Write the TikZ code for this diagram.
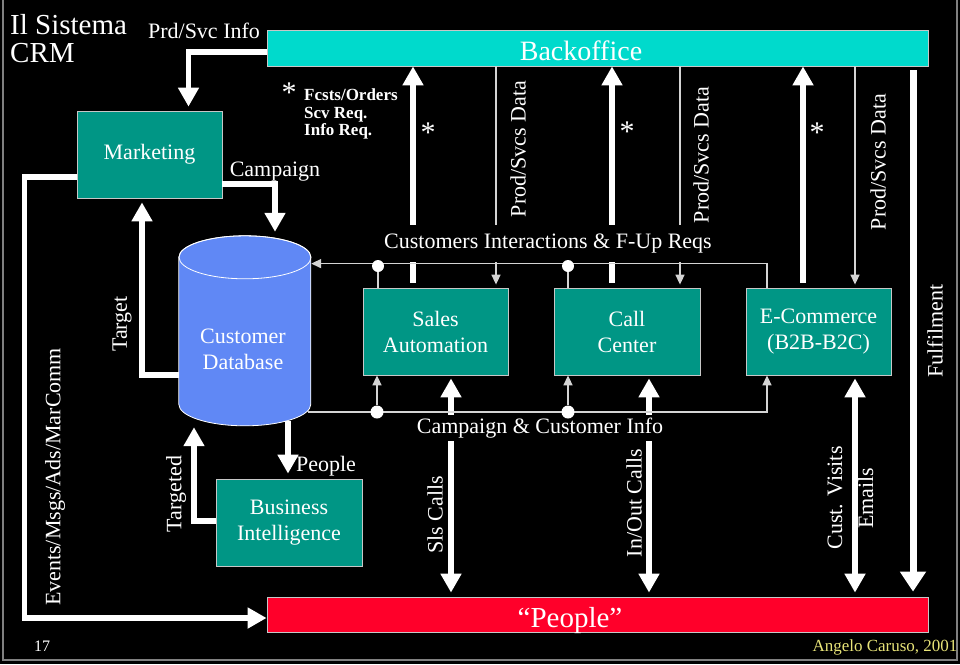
\documentclass[tikz,border=0pt]{standalone}
\usepackage{fontspec}
\setmainfont{Liberation Serif}
\usetikzlibrary{arrows.meta,positioning}

\definecolor{crmteal}{RGB}{0,150,133}
\definecolor{crmcyan}{RGB}{0,218,204}
\definecolor{crmred}{RGB}{255,0,42}
\definecolor{crmblue}{RGB}{96,136,245}
\definecolor{crmline}{RGB}{212,212,212}
\definecolor{crmyellow}{RGB}{232,228,120}

\begin{document}
\begin{tikzpicture}[
    x=1pt, y=-1pt,
    font=\fontsize{22}{26}\selectfont, text=white,
    box/.style={draw=white!78!black, line width=0.8pt, fill=crmteal, align=center, minimum width=145pt, minimum height=87pt, inner sep=2pt},
    band/.style={draw=white!78!black, line width=0.8pt, minimum width=661pt, inner sep=0pt},
    pipe/.style={white, line width=5.5pt},
    flow/.style={pipe, -{Triangle[width=20pt,length=19pt]}},
    twoway/.style={pipe, {Triangle[width=20pt,length=19pt]}-{Triangle[width=20pt,length=19pt]}},
    bus/.style={crmline, line width=1.6pt},
    tap/.style={bus, -{Triangle[width=9pt,length=10pt]}},
    joint/.style={circle, fill=white, inner sep=0pt, minimum size=13pt},
    gap/.style={fill=black, inner sep=0pt},
    vlabel/.style={rotate=90, inner sep=0pt},
    star/.style={font=\fontsize{30}{30}\selectfont, inner sep=0pt},
    bigtext/.style={font=\fontsize{28}{30}\selectfont},
    reqtext/.style={font=\fontsize{17}{17.5}\selectfont\bfseries, align=left, inner sep=0pt}
  ]

  \useasboundingbox (0,0) rectangle (960,664);
  \fill[black] (0,0) rectangle (960,664);
  \draw[gray, line width=1.2pt] (3,0) -- (3,660) -- (957,660) -- (957,0);

  % Boxes
  \node[band, fill=crmcyan, minimum height=36pt] (bo) at (597.5,48) {};
  \node[band, fill=crmred, minimum height=35pt] (ppl) at (597.5,614.5) {};
  \node[box] (mkt) at (149.5,154.5) {Marketing};
  \node[box] (sa) at (435.5,331.5) {Sales\\Automation};
  \node[box, minimum width=146pt] (cc) at (627,331.5) {Call\\Center};
  \node[box] (ec) at (818.5,331.5) {E-Commerce\\(B2B-B2C)};
  \node[box, minimum width=146pt] (bi) at (289,522.5) {Business\\Intelligence};

  % Customer database cylinder
  \node[minimum width=132pt, minimum height=190pt, inner sep=0pt] (db) at (245,331) {};
  \filldraw[fill=crmblue, draw=white, line width=0.8pt] (db.north west) ++(0,21.5) -- ++(0,147) arc (180:0:66 and 21.5) -- ++(0,-147) arc (0:-180:66 and 21.5) -- cycle;
  \draw[white, line width=0.8pt] (db.north) ++(0,21.5) ellipse (66 and 21.5);
  \node[align=center] (dbtext) at (243,349) {Customer\\Database};

  % Marketing loop
  \draw[flow, shorten >=4pt] ([yshift=-4pt]bo.west) -| ([xshift=39pt]mkt.north);
  \draw[flow, shorten >=4pt] ([yshift=-29.5pt]mkt.east) -| ([xshift=30pt]db.north);
  \draw[flow] ([yshift=-22.5pt]mkt.west) -- ++(-52,0) |- ([yshift=-3.5pt]ppl.west);
  \draw[flow, shorten >=4pt] ([yshift=-44pt]db.west) -| ([xshift=-7.5pt]mkt.south);
  \draw[flow, shorten >=1pt] ([yshift=1.5pt]bi.west) -| ([xshift=-51pt]db.south);
  \draw[flow, shorten >=5pt] ([xshift=43pt,yshift=5pt]db.south) -- ([xshift=-1pt]bi.north);

  % Requests up to the backoffice
  \coordinate (req1) at ([xshift=-22.5pt]sa.north);
  \coordinate (req2) at ([xshift=-15pt]cc.north);
  \coordinate (req3) at ([xshift=-15.5pt]ec.north);
  \draw[flow, shorten <=5pt] (req1) -- (req1 |- bo.south);
  \draw[flow, shorten <=5pt] (req2) -- (req2 |- bo.south);
  \draw[flow, shorten <=5pt] (req3) -- (req3 |- bo.south);

  % Product data down from the backoffice
  \coordinate (dat1) at ([xshift=60.5pt]sa.north);
  \coordinate (dat2) at ([xshift=53pt]cc.north);
  \coordinate (dat3) at ([xshift=36.5pt]ec.north);
  \draw[tap, shorten >=3pt] (dat1 |- bo.south) -- (dat1);
  \draw[tap, shorten >=3pt] (dat2 |- bo.south) -- (dat2);
  \draw[tap, shorten >=3pt] (dat3 |- bo.south) -- (dat3);

  % Fulfilment
  \coordinate (ful) at ([xshift=315.5pt]bo.south);
  \draw[pipe, line width=7pt, -{Triangle[width=25pt,length=20pt]}, shorten <=4pt, shorten >=5pt] (ful) -- (ful |- ppl.north);

  % Channels to the people
  \coordinate (chn1) at ([xshift=15.5pt]sa.south);
  \coordinate (chn2) at ([xshift=22pt]cc.south);
  \coordinate (chn3) at ([xshift=36.5pt]ec.south);
  \draw[twoway, shorten <=3pt, shorten >=4pt] (chn1) -- (chn1 |- ppl.north);
  \draw[twoway, shorten <=3pt, shorten >=4pt] (chn2) -- (chn2 |- ppl.north);
  \draw[twoway, shorten <=3pt, shorten >=4pt] (chn3) -- (chn3 |- ppl.north);

  % Buses
  \draw[tap] ([xshift=-51.5pt]ec.north) -- ++(0,-24) coordinate (cibus) -- (cibus -| db.east);
  \draw[tap] (308,412) coordinate (ccbus) -| ([xshift=-51.5pt]ec.south);

  % Labels
  \node[gap, minimum height=37pt] (cilbl) at (548,243.5) {Customers Interactions \& F-Up Reqs};
  \node[gap, minimum height=26pt] (cclbl) at (540,428) {Campaign \& Customer Info};
  \node[align=left, anchor=north west, inner sep=0pt, font=\fontsize{29}{28}\selectfont] (ttl) at (10,14) {Il Sistema\\CRM};
  \node (pinfo) at (204,31) {Prd/Svc Info};
  \node (camp) at (275,172) {Campaign};
  \node[star] (ast0) at (289,93) {*};
  \node[reqtext, anchor=north west] (reqs) at (304,89) {Fcsts/Orders\\Scv Req.\\Info Req.};
  \node[star] (ast1) at (428,133) {*};
  \node[star] (ast2) at (627,132) {*};
  \node[star] (ast3) at (817,133) {*};
  \node[vlabel] (pd1) at (518,149) {Prod/Svcs Data};
  \node[vlabel] (pd2) at (701,155) {Prod/Svcs Data};
  \node[vlabel] (pd3) at (878,162) {Prod/Svcs Data};
  \node[vlabel] (tgt) at (122,324) {Target};
  \node[vlabel] (tgd) at (176,494) {Targeted};
  \node (pplbl) at (326,466) {People};
  \node[vlabel] (evts) at (55,477) {Events/Msgs/Ads/MarComm};
  \node[vlabel] (sls) at (435,515) {Sls Calls};
  \node[vlabel] (inout) at (634,503) {In/Out Calls};
  \node[vlabel, align=center, font=\fontsize{22}{31}\selectfont] (visit) at (850.5,498) {Cust. Visits\\Emails};
  \node[vlabel] (fulbl) at (935,331) {Fulfilment};
  \node[bigtext] (botext) at (581,51) {Backoffice};
  \node[font=\fontsize{29}{30}\selectfont] (ppltext) at (570,620.5) {“People”};
  \node[font=\fontsize{16}{18}\selectfont] (pgno) at (42,646) {17};
  \node[font=\fontsize{17}{19}\selectfont, text=crmyellow] (auth) at (885,647) {Angelo Caruso, 2001};

  % Junctions
  \node[joint, minimum size=12pt] (j1) at (378,266) {};
  \node[joint, minimum size=12pt] (j2) at (568,266) {};
  \node[joint] (j3) at (377,412) {};
  \node[joint] (j4) at (568,412) {};
  \draw[bus] (j1) -- (j1 |- sa.north);
  \draw[bus] (j2) -- (j2 |- cc.north);
  \draw[tap] (j3) -- (j3 |- sa.south);
  \draw[tap] (j4) -- (j4 |- cc.south);

\end{tikzpicture}
\end{document}
